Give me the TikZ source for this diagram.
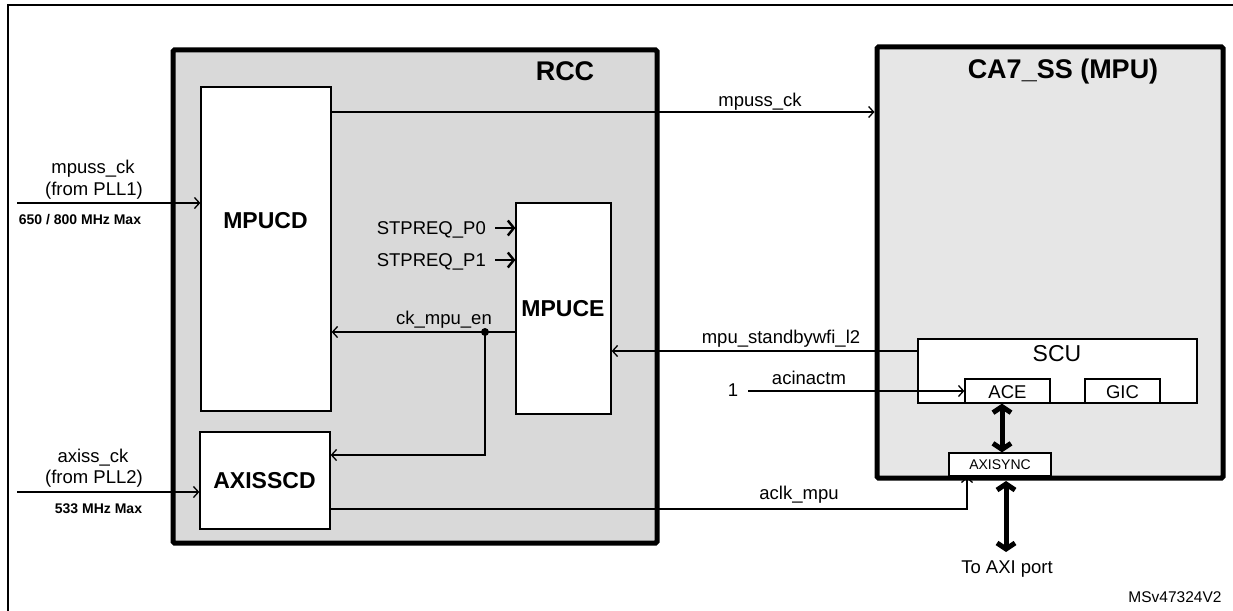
\documentclass[tikz,border=0pt]{standalone}
\usepackage{fontspec}
\setmainfont{Liberation Sans}
\usetikzlibrary{arrows.meta,calc}
\definecolor{rccgray}{RGB}{217,217,217}
\definecolor{cagray}{RGB}{230,230,230}
\begin{document}
\begin{tikzpicture}[x=1pt,y=-1pt,
  outerbox/.style={draw, line width=5pt, rectangle, inner sep=0pt, rounded corners=1.5pt},
  blk/.style={draw, fill=white, line width=1.3pt, rectangle, inner sep=0pt},
  lbl/.style={font=\fontsize{18.5}{20}\selectfont, inner sep=0pt, anchor=base},
  blbl/.style={font=\fontsize{23}{25}\selectfont\bfseries, inner sep=0pt, anchor=base},
  ttl/.style={font=\fontsize{27}{30}\selectfont\bfseries, inner sep=0pt, anchor=base},
  sml/.style={font=\fontsize{14}{16}\selectfont\bfseries, inner sep=0pt, anchor=base},
  tiny/.style={font=\fontsize{14}{16}\selectfont, inner sep=0pt, anchor=base},
  arr/.style={line width=1.3pt, -{Straight Barb[length=5pt,width=11pt]}},
  sarr/.style={line width=2.4pt, -{Straight Barb[length=6pt,width=15pt]}},
  thk/.style={line width=5pt, {Straight Barb[length=6pt,width=18pt]}-{Straight Barb[length=6pt,width=18pt]}}]
\useasboundingbox (0,0) rectangle (1233,610);
\fill[white] (0,0) rectangle (1233,610);
% frame
\draw[line width=2.5pt] (8,612) -- (8,5) -- (1235,5);

% big boxes
\node[outerbox, fill=rccgray, minimum width=484pt, minimum height=493pt] (rcc) at (415,296.5) {};
\node[outerbox, fill=cagray, minimum width=346pt, minimum height=431pt] (ca7) at (1050,262.5) {};
\node[ttl] (rcct) at (565,80) {RCC};
\node[ttl] (ca7t) at (1063,78) {CA7\_SS (MPU)};

% inner blocks
\node[blk, minimum width=130pt, minimum height=324pt] (mpucd) at (266,249) {};
\node[blbl] (mpucdt) at (265.5,228) {MPUCD};
\node[blk, minimum width=130pt, minimum height=97pt] (axisscd) at (265,480.5) {};
\node[blbl] (axisscdt) at (264.5,488) {AXISSCD};
\node[blk, minimum width=95pt, minimum height=211pt] (mpuce) at (563.5,308.5) {};
\node[blbl] (mpucet) at (563,316) {MPUCE};
\node[blk, minimum width=279pt, minimum height=64pt] (scu) at (1057.5,371) {};
\node[lbl, font=\fontsize{23}{25}\selectfont] (scut) at (1057,361) {SCU};
\node[blk, minimum width=85pt, minimum height=24pt] (ace) at (1007.5,391) {};
\node[lbl] (acet) at (1007.5,398) {ACE};
\node[blk, minimum width=75pt, minimum height=24pt] (gic) at (1122.5,391) {};
\node[lbl] (gict) at (1122.5,398) {GIC};
\node[blk, minimum width=102pt, minimum height=23pt] (axisync) at (1000,464.5) {};
\node[tiny] (axisynct) at (1000,469) {AXISYNC};

% inputs
\coordinate (in1) at (17,203);
\coordinate (in2) at (17,492);
\node[lbl] (in1a) at (93,173) {mpuss\_ck};
\node[lbl] (in1b) at (94,195) {(from PLL1)};
\node[sml] (in1c) at (80,224) {650 / 800 MHz Max};
\node[lbl] (in2a) at (93,462) {axiss\_ck};
\node[lbl] (in2b) at (94,483) {(from PLL2)};
\node[sml] (in2c) at (98.5,513) {533 MHz Max};
\draw[arr] (in1) -- (in1 -| mpucd.west);
\draw[arr] (in2) -- (in2 -| axisscd.west);

% mpuss_ck out
\draw[arr] (mpucd.east |- 0,112) -- (ca7.west |- 0,112);
\node[lbl] (mpusst) at (760,106) {mpuss\_ck};

% STPREQ
\node[lbl, anchor=base east] (p0) at (486,234) {STPREQ\_P0};
\node[lbl, anchor=base east] (p1) at (486,266) {STPREQ\_P1};
\draw[sarr] (495,228) -- (mpuce.west |- 0,228);
\draw[sarr] (495,260) -- (mpuce.west |- 0,260);

% ck_mpu_en
\coordinate (dot) at (485,332);
\draw[arr] (mpuce.west |- dot) -- (mpucd.east |- dot);
\node[lbl] (ckt) at (444,324) {ck\_mpu\_en};
\draw[arr] (dot) |- (axisscd.east |- 0,455);
\fill (dot) circle (4pt);

% mpu_standbywfi_l2
\draw[arr] (scu.west |- 0,351) -- (mpuce.east |- 0,351);
\node[lbl] (sbt) at (781,343) {mpu\_standbywfi\_l2};

% acinactm
\node[lbl] (one) at (733,396) {1};
\draw[arr] (748,391) -- (ace.west);
\node[lbl] (act) at (809,384) {acinactm};

% aclk_mpu
\draw[arr] (axisscd.east |- 0,509) -| ([xshift=-33pt]axisync.south);
\node[lbl] (aclkt) at (799,499) {aclk\_mpu};

% thick buses
\draw[thk] ([xshift=-5.5pt]ace.south) -- ([xshift=2pt]axisync.north);
\coordinate (axitop) at (1006,481);
\coordinate (axibot) at (1006,552);
\draw[thk] (axitop) -- (axibot);
\node[lbl] (axit) at (1007,573) {To AXI port};
\node[lbl, font=\fontsize{15.5}{17}\selectfont] (msv) at (1175,602.5) {MSv47324V2};
\end{tikzpicture}
\end{document}
